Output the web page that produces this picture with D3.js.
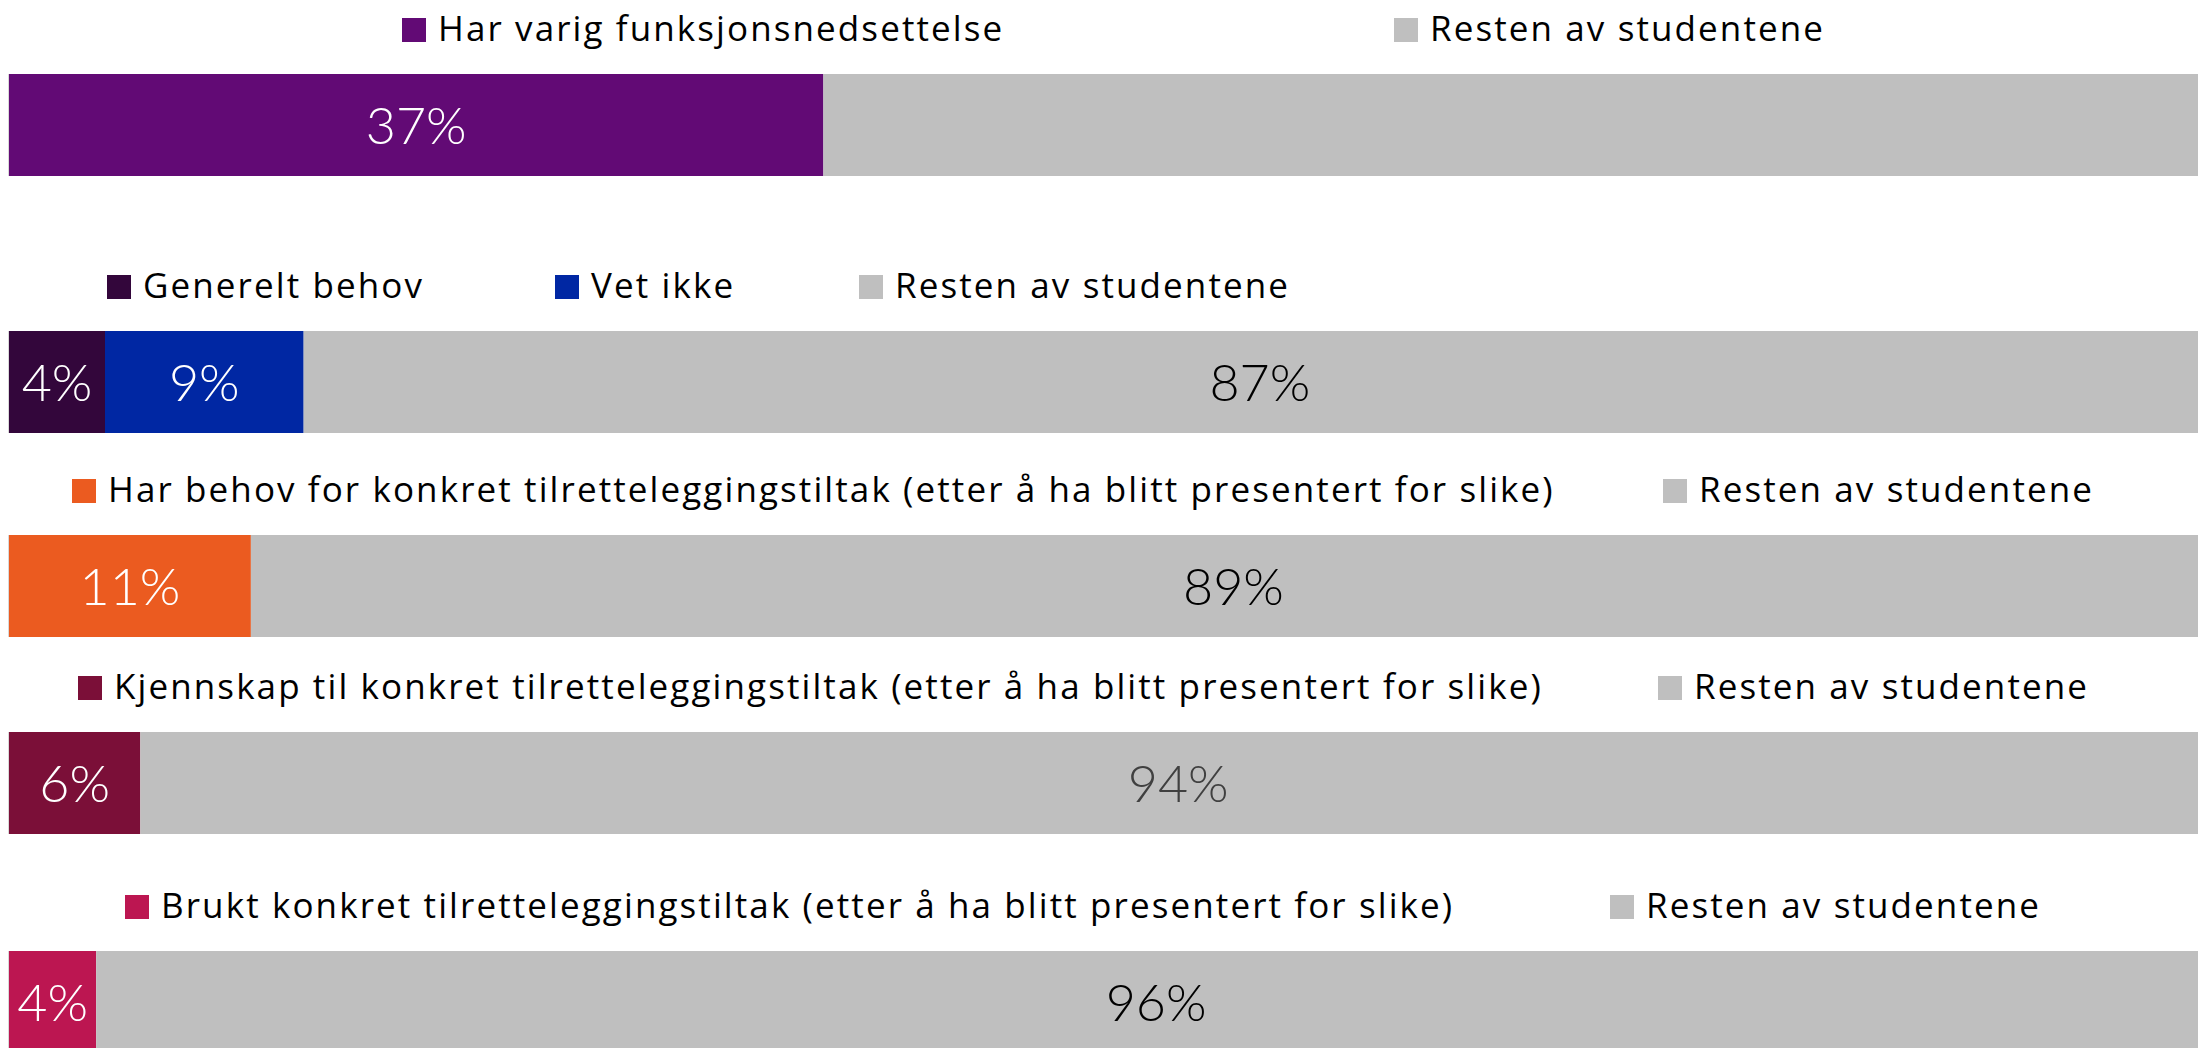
<!DOCTYPE html>
<html>
<head>
<meta charset="utf-8">
<script src="https://cdn.jsdelivr.net/npm/d3@7"></script>
<style>
  html, body { margin: 0; padding: 0; background: #fff; }
  svg { display: block; }
  .legend-text { font-family: "Open Sans", Lato, sans-serif; font-size: 35px; letter-spacing: 2.1px; fill: #000; }
  .value-label { font-family: Lato, "Open Sans", sans-serif; font-size: 52px; font-weight: 300; }
</style>
</head>
<body>
<svg id="chart" width="2198" height="1048"></svg>
<script>
// series names per bar (legend entries)
const seriesNames = [
    ['Har varig funksjonsnedsettelse', 'Resten av studentene'],
    ['Generelt behov', 'Vet ikke', 'Resten av studentene'],
    ['Har behov for konkret tilretteleggingstiltak (etter å ha blitt presentert for slike)', 'Resten av studentene'],
    ['Kjennskap til konkret tilretteleggingstiltak (etter å ha blitt presentert for slike)', 'Resten av studentene'],
    ['Brukt konkret tilretteleggingstiltak (etter å ha blitt presentert for slike)', 'Resten av studentene']
];

// share of students, percent
const seriesValues = [
    [36.9, 63.1],
    [4.35, 9.0, 86.65],
    [10.96, 89.04],
    [5.95, 94.05],
    [3.95, 96.05]
];

// data labels shown in the bars (null = no label)
const valueLabels = [
    ['37%', null],
    ['4%', '9%', '87%'],
    ['11%', '89%'],
    ['6%', '94%'],
    ['4%', '96%']
];

// styles
const seriesColors = [
    ['#620a75', '#bfbfbf'],
    ['#33063b', '#0027a3', '#bfbfbf'],
    ['#eb5b20', '#bfbfbf'],
    ['#7b0f38', '#bfbfbf'],
    ['#bc1651', '#bfbfbf']
];
const labelColors = [
    ['#fff', '#000'],
    ['#fff', '#fff', '#000'],
    ['#fff', '#000'],
    ['#fff', '#404040'],
    ['#fff', '#000']
];

// layout: top of each bar panel, and x of each legend entry
const panelTops = [74, 331, 535, 732, 951];
const legendX = [
    [402, 1394],
    [107, 555, 859],
    [72, 1663],
    [78, 1658],
    [125, 1610]
];
const barHeight = 102;
const legendOffset = 56;   // legend square top sits this far above the bar
const swatch = 24;

const svg = d3.select('#chart');

const x = d3.scaleLinear()
    .domain([0, 100])
    .range([9, 2216]);

seriesValues.forEach((values, i) => {
    const panel = svg.append('g')
        .attr('transform', `translate(0, ${panelTops[i]})`);

    const segments = d3.stack()
        .keys(d3.range(values.length))([values])
        .map((s, j) => ({
            x0: s[0][0],
            x1: s[0][1],
            color: seriesColors[i][j],
            label: valueLabels[i][j],
            labelColor: labelColors[i][j]
        }));

    panel.selectAll('rect.seg')
        .data(segments)
        .enter().append('rect')
        .attr('class', 'seg')
        .attr('x', d => x(d.x0))
        .attr('y', 0)
        .attr('width', d => x(d.x1) - x(d.x0))
        .attr('height', barHeight)
        .attr('fill', d => d.color);

    // thin category axis line at the left
    panel.append('line')
        .attr('x1', x(0) - 0.5)
        .attr('x2', x(0) - 0.5)
        .attr('y1', 0)
        .attr('y2', barHeight)
        .attr('stroke', '#d9d9d9')
        .attr('stroke-width', 1);

    panel.selectAll('text.value-label')
        .data(segments.filter(d => d.label))
        .enter().append('text')
        .attr('class', 'value-label')
        .attr('x', d => (x(d.x0) + x(d.x1)) / 2)
        .attr('y', barHeight / 2 + 19)
        .attr('text-anchor', 'middle')
        .attr('fill', d => d.labelColor)
        .text(d => d.label);

    // legend
    const legend = svg.append('g')
        .attr('transform', `translate(0, ${panelTops[i] - legendOffset})`);

    const items = legend.selectAll('g.item')
        .data(seriesNames[i])
        .enter().append('g')
        .attr('class', 'item')
        .attr('transform', (d, j) => `translate(${legendX[i][j]}, 0)`);

    items.append('rect')
        .attr('width', swatch)
        .attr('height', swatch)
        .attr('fill', (d, j) => seriesColors[i][j]);

    items.append('text')
        .attr('class', 'legend-text')
        .attr('x', swatch + 12)
        .attr('y', swatch - 1)
        .text(d => d);
});
</script>
</body>
</html>
